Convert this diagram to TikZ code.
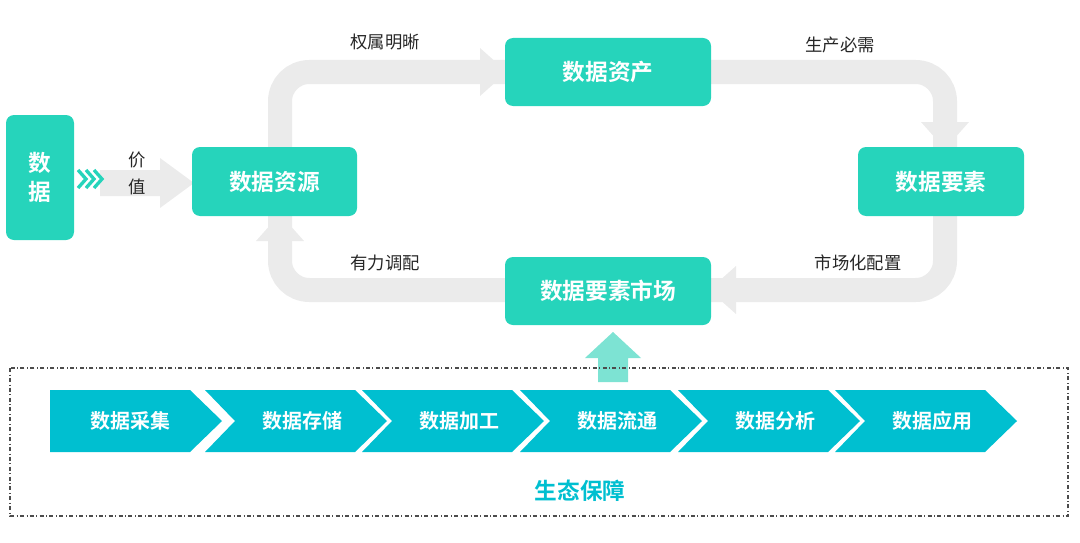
\documentclass[tikz,border=0pt]{standalone}
\usepackage{fontspec}
\setmainfont{Noto Sans CJK SC}[BoldFont={Noto Sans CJK SC Bold}]
\begin{document}
\begin{tikzpicture}[x=0.75pt,y=-0.75pt,
  box/.style={fill=teal1,rounded corners=6pt,text=white,font=\bfseries\fontsize{17}{20}\selectfont},
  lbl/.style={font=\fontsize{13}{15}\selectfont,text=black!85},
  chev/.style={fill=cyan1},
  ctext/.style={text=white,font=\bfseries\fontsize{15}{18}\selectfont},
  gray/.style={draw=gray1,line width=18pt},
  ghead/.style={fill=gray1}]
\definecolor{teal1}{HTML}{26D4BB}
\definecolor{cyan1}{HTML}{00BFD0}
\definecolor{gray1}{HTML}{EBEBEB}
\definecolor{up1}{HTML}{7DE3D3}
\useasboundingbox (0,0) rectangle (1080,542);
% loop ribbon
\draw[gray,rounded corners=22pt] (280,72) coordinate (tl) -- (945,72) -- (945,290) -- (280,290) -- cycle;
\fill[ghead] (480,48) -- (507,72) -- (480,96) -- cycle;
\fill[ghead] (921,122) -- (945,149) -- (969,122) -- cycle;
\fill[ghead] (736,266) -- (709,290) -- (736,314) -- cycle;
\fill[ghead] (256,241) -- (280,214) -- (304,241) -- cycle;
% input arrow
\coordinate (ia) at (100,183);
\fill[ghead] (100,170) -- (160,170) -- (160,158) -- (194,183) -- (160,208) -- (160,196) -- (100,196) -- cycle;
\node[lbl] (v1) at (137,160) {价};
\node[lbl] (v2) at (137,187) {值};
% boxes
\node[box,minimum width=68*0.75pt,minimum height=125*0.75pt,align=center] (d) at (40,177.5) {数\\[2pt]据};
\foreach \i in {0,8,16}{
  \draw[teal1,line width=2.5pt] (78+\i,170) -- (86+\i,179) -- (78+\i,188);
}
\node[box,minimum width=165*0.75pt,minimum height=69*0.75pt] (res) at (274.5,181.5) {数据资源};
\node[box,minimum width=206*0.75pt,minimum height=68*0.75pt] (ast) at (608,72) {数据资产};
\node[box,minimum width=166*0.75pt,minimum height=69*0.75pt] (fac) at (941,181.5) {数据要素};
\node[box,minimum width=206*0.75pt,minimum height=68*0.75pt] (mkt) at (608,291) {数据要素市场};
\node[lbl] (l1) at (385,42) {权属明晰};
\node[lbl] (l2) at (840,45) {生产必需};
\node[lbl] (l3) at (858,263) {市场化配置};
\node[lbl] (l4) at (385,263) {有力调配};
% up arrow
\coordinate (ub) at (613,380);
\fill[up1] (598,382) -- (598,358) -- (585,358) -- (613,332) -- (641,358) -- (628,358) -- (628,382) -- cycle;
% dashed frame
\draw[dash dot,line width=0.8pt,black!70] (10,368) rectangle (1068,516);
% chevrons
\fill[chev] (50,390) -- (190,390) -- (222,421) -- (190,452) -- (50,452) -- cycle;
\foreach \x/\t in {205/数据存储,362/数据加工,520/数据流通,678/数据分析,835/数据应用}{
  \fill[chev] (\x,390) -- (\x+150,390) -- (\x+182,421) -- (\x+150,452) -- (\x,452) -- (\x+30,421) -- cycle;
  \node[ctext] at (\x+97,421) {\t};
}
\node[ctext] (c1) at (130,421) {数据采集};
\node[text=cyan1,font=\bfseries\fontsize{17}{20}\selectfont] (eco) at (580,491) {生态保障};
\end{tikzpicture}
\end{document}
